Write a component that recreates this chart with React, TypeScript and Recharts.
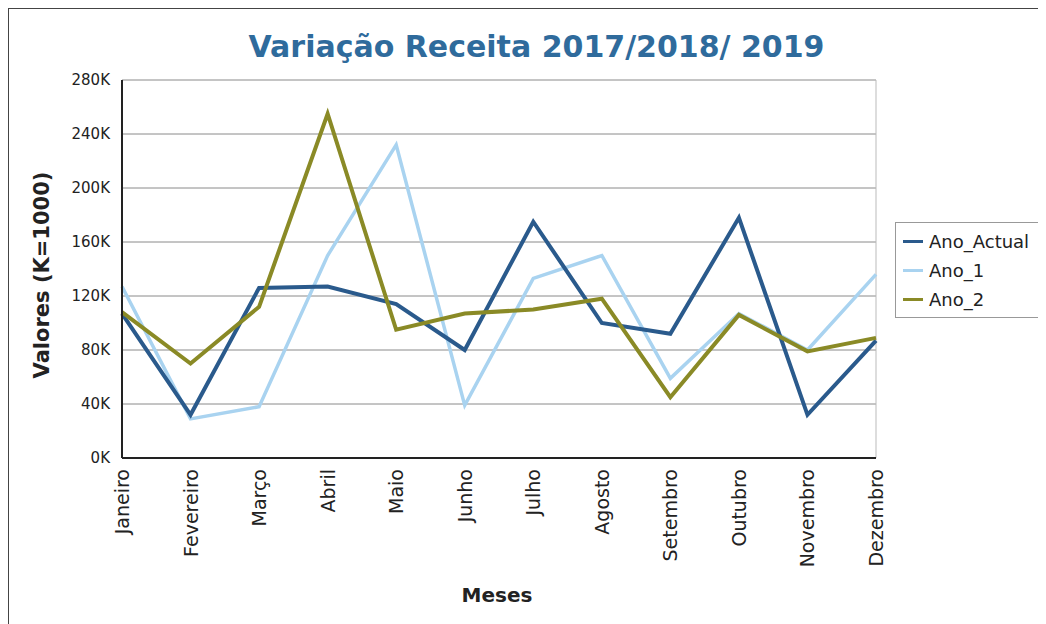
import React from "react";
import { LineChart, Line, XAxis, YAxis, CartesianGrid, ReferenceLine } from "recharts";

const months = ["Janeiro", "Fevereiro", "Março", "Abril", "Maio", "Junho", "Julho", "Agosto", "Setembro", "Outubro", "Novembro", "Dezembro"];
const anoActual = [107000, 32000, 126000, 127000, 114000, 80000, 175000, 100000, 92000, 178000, 32000, 87000];
const ano1 = [127000, 29000, 38000, 150000, 232000, 39000, 133000, 150000, 59000, 107000, 80000, 136000];
const ano2 = [108000, 70000, 112000, 255000, 95000, 107000, 110000, 118000, 45000, 106000, 79000, 89000];
const yTicks = [0, 40000, 80000, 120000, 160000, 200000, 240000, 280000];

const seriesNames = ["Ano_Actual", "Ano_1", "Ano_2"];
const seriesColors = ["#2a5a8c", "#a9d3f0", "#8a8a26"];

const data = months.map((m, i) => ({
  mes: m,
  Ano_Actual: anoActual[i],
  Ano_1: ano1[i],
  Ano_2: ano2[i],
}));

const FONT = "'DejaVu Sans', Verdana, sans-serif";

const XTick = (props: any) => {
  const { x, y, payload } = props;
  return (
    <text
      transform={`translate(${x + 7},${y + 9}) rotate(-90)`}
      textAnchor="end"
      fontSize={19}
      fontFamily={FONT}
      fill="#222"
    >
      {payload.value}
    </text>
  );
};

export default function App() {
  return (
    <div
      style={{
        position: "relative",
        width: 1038,
        height: 616,
        borderLeft: "1px solid #444",
        borderTop: "1px solid #444",
        fontFamily: FONT,
        background: "#fff",
      }}
    >
      <LineChart
        width={1030}
        height={608}
        data={data}
        margin={{ top: 71, right: 163, left: 0, bottom: 0 }}
      >
        <CartesianGrid vertical={false} stroke="#8a8a8a" strokeWidth={1} />
        <XAxis
          dataKey="mes"
          interval={0}
          height={159}
          tick={<XTick />}
          tickLine={false}
          tickSize={0}
          axisLine={{ stroke: "#222", strokeWidth: 2 }}
        />
        <YAxis
          width={113}
          domain={[0, 280000]}
          ticks={yTicks}
          tickFormatter={(v: number) => `${v / 1000}K`}
          tickLine={false}
          tickMargin={6}
          axisLine={{ stroke: "#222", strokeWidth: 2 }}
          tick={{ fontSize: 15, fontFamily: FONT, fill: "#222" }}
        />
        <ReferenceLine x="Dezembro" stroke="#bbb" strokeWidth={1} />
        <Line type="linear" dataKey="Ano_1" stroke={seriesColors[1]} strokeWidth={3.5} dot={false} isAnimationActive={false} />
        <Line type="linear" dataKey="Ano_Actual" stroke={seriesColors[0]} strokeWidth={4} dot={false} isAnimationActive={false} />
        <Line type="linear" dataKey="Ano_2" stroke={seriesColors[2]} strokeWidth={4} dot={false} isAnimationActive={false} />
      </LineChart>

      <div
        style={{
          position: "absolute",
          left: 0,
          width: 1055,
          top: 20,
          textAlign: "center",
          fontSize: 30,
          fontWeight: "bold",
          color: "#2f6b9c",
          letterSpacing: 0,
          lineHeight: "36px",
        }}
      >
        Variação Receita 2017/2018/ 2019
      </div>

      <div
        style={{
          position: "absolute",
          left: 33 - 150,
          top: 266 - 14,
          width: 300,
          height: 28,
          lineHeight: "28px",
          textAlign: "center",
          transform: "rotate(-90deg)",
          fontSize: 21,
          fontWeight: "bold",
          color: "#222",
        }}
      >
        Valores (K=1000)
      </div>

      <div
        style={{
          position: "absolute",
          left: 388,
          width: 200,
          top: 572,
          textAlign: "center",
          fontSize: 20,
          fontWeight: "bold",
          color: "#222",
          lineHeight: "28px",
        }}
      >
        Meses
      </div>

      <div
        style={{
          position: "absolute",
          left: 886,
          top: 213,
          width: 149,
          height: 96,
          border: "1px solid #999",
          boxSizing: "border-box",
          paddingTop: 4,
        }}
      >
        {seriesNames.map((n, i) => (
          <div key={n} style={{ display: "flex", alignItems: "center", height: 29 }}>
            <div style={{ width: 20, height: 3, background: seriesColors[i], marginLeft: 7, marginRight: 6 }} />
            <span style={{ fontSize: 18, color: "#222" }}>{n}</span>
          </div>
        ))}
      </div>
    </div>
  );
}
